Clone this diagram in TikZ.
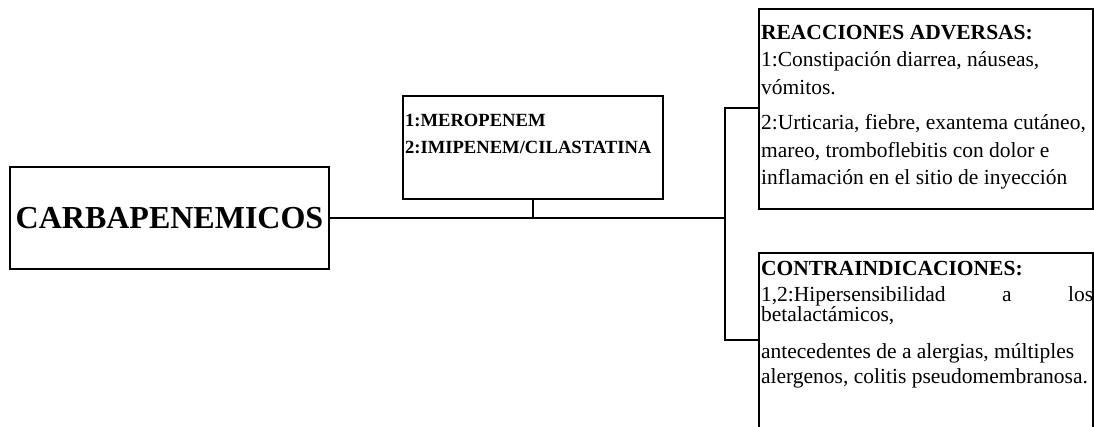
\documentclass[tikz,border=0pt]{standalone}
\usepackage{fontspec}
\setmainfont{Liberation Serif}
\begin{document}
\begin{tikzpicture}[x=1pt,y=-1pt,
  box/.style={draw, line width=2.2pt, inner xsep=2pt, inner ysep=0pt, anchor=north west},
  conn/.style={line width=2.2pt}]
\useasboundingbox (0,0) rectangle (1094,427);
\clip (0,0) rectangle (1094,427);
\fill[white] (0,0) rectangle (1094,427);
% main box
\node[draw, line width=2.2pt, minimum width=319pt, minimum height=102pt, inner sep=0pt,
      font=\fontsize{32}{38}\selectfont\bfseries] (carb) at (169.5,218) {CARBAPENEMICOS};
% drugs box
\node[box] (drugs) at (402,95) {\begin{minipage}[t][103pt][t]{256pt}\fontsize{18.6}{27}\selectfont\bfseries
\rule{0pt}{30pt}1:MEROPENEM\\
2:IMIPENEM/CILASTATINA\end{minipage}};
% adverse reactions box
\node[box] (adv) at (758,8) {\begin{minipage}[t][200pt][t]{330pt}\fontsize{21.5}{27.5}\selectfont
\rule{0pt}{30pt}\textbf{REACCIONES ADVERSAS:}\\
1:Constipación diarrea, náuseas,\\
vómitos.\\[8pt]
2:Urticaria, fiebre, exantema cutáneo,\\
mareo, tromboflebitis con dolor e\\
inflamación en el sitio de inyección\end{minipage}};
% contraindications box
\node[box] (contra) at (758,252) {\begin{minipage}[t][200pt][t]{330pt}\fontsize{21.5}{26}\selectfont
\lineskiplimit=-100pt
\rule{0pt}{22pt}\textbf{CONTRAINDICACIONES:}\\
\hbox to 332pt{1,2:Hipersensibilidad\hfill a\hfill los}\\[-5.5pt]
betalactámicos,\\[11pt]
antecedentes de a alergias, múltiples\\[-1pt]
alergenos, colitis pseudomembranosa.\end{minipage}};
% connectors
\coordinate (trunk) at (725,218);
\coordinate (jt) at (725,108);
\coordinate (jb) at (725,340);
\draw[conn] (carb.east) -- (carb.east -| trunk);
\draw[conn] (drugs.south) -- (drugs.south |- trunk);
\draw[conn] (adv.west |- jt) -- (jt) -- (jb) -- (contra.west |- jb);
\end{tikzpicture}
\end{document}
